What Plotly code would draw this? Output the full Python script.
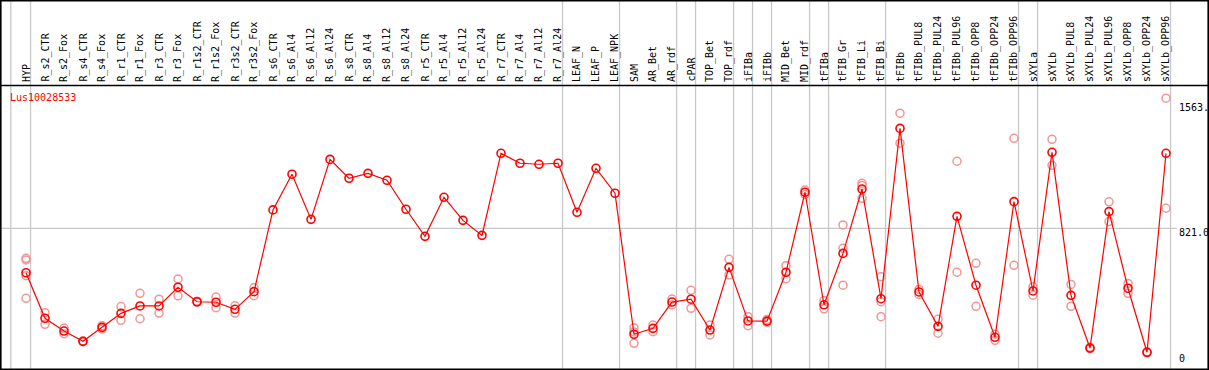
import plotly.graph_objects as go

gene = "Lus10028533"

categories = [
    "HYP", "R_s2_CTR", "R_s2_Fox", "R_s4_CTR", "R_s4_Fox", "R_r1_CTR", "R_r1_Fox",
    "R_r3_CTR", "R_r3_Fox", "R_r1s2_CTR", "R_r1s2_Fox", "R_r3s2_CTR", "R_r3s2_Fox",
    "R_s6_CTR", "R_s6_Al4", "R_s6_Al12", "R_s6_Al24", "R_s8_CTR", "R_s8_Al4",
    "R_s8_Al12", "R_s8_Al24", "R_r5_CTR", "R_r5_Al4", "R_r5_Al12", "R_r5_Al24",
    "R_r7_CTR", "R_r7_Al4", "R_r7_Al12", "R_r7_Al24", "LEAF_N", "LEAF_P", "LEAF_NPK",
    "SAM", "AR_Bet", "AR_rdf", "cPAR", "TOP_Bet", "TOP_rdf", "iFIBa", "iFIBb",
    "MID_Bet", "MID_rdf", "tFIBa", "tFIB_Gr", "tFIB_Li", "tFIB_Bi", "tFIBb",
    "tFIBb_PUL8", "tFIBb_PUL24", "tFIBb_PUL96", "tFIBb_OPP8", "tFIBb_OPP24",
    "tFIBb_OPP96", "sXYLa", "sXYLb", "sXYLb_PUL8", "sXYLb_PUL24", "sXYLb_PUL96",
    "sXYLb_OPP8", "sXYLb_OPP24", "sXYLb_OPP96",
]

mean_values = [
    557, 287, 211, 150, 233, 316, 360, 360, 471, 385, 382, 340, 445,
    930, 1142, 874, 1230, 1118, 1147, 1106, 934, 773, 1005, 868, 779,
    1266, 1207, 1201, 1207, 916, 1177, 1029,
    192, 227, 383, 400, 217, 589, 271, 270,
    560, 1035, 367, 672, 1054, 403, 1414,
    443, 239, 892, 483, 174, 979,
    449, 1272, 423, 110, 920, 465, 85, 1266,
]

replicate_values = [
    [643, 633, 540, 405], [320, 251], [229, 195], [152, 148], [243, 223],
    [356, 275], [435, 284], [400, 318], [520, 420], [388, 382], [413, 350],
    [361, 318], [468, 421],
    [], [], [], [], [], [], [], [], [], [], [], [], [], [], [], [], [], [], [],
    [231, 206, 138], [247, 207], [401, 366], [453, 346], [247, 188], [637, 544],
    [296, 243], [280, 262], [599, 522], [1048, 1022], [392, 343],
    [841, 702, 483], [1088, 1075, 999], [534, 385, 296], [1504, 1326],
    [458, 428], [281, 198], [1219, 560], [613, 358], [192, 156], [1355, 601],
    [474, 424], [1349, 1195], [488, 358], [115, 106], [978, 861], [494, 435],
    [88, 82], [1593, 940],
]

# last category index of each group (separators drawn after them)
group_ends = [-1, 0, 28, 31, 34, 35, 37, 38, 39, 41, 42, 45, 52, 53, 60]

y_ticks = [0, 821.0, 1563.0]
y_tick_text = ["0", "821.0", "1563."]

W, H = 1209, 370
FONT = "DejaVu Sans Mono"

xs = list(range(len(categories)))
rx, ry = [], []
for i, reps in enumerate(replicate_values):
    for v in reps:
        rx.append(i)
        ry.append(v)

fig = go.Figure()
fig.add_trace(go.Scatter(
    x=rx, y=ry, mode="markers",
    marker=dict(symbol="circle-open", size=8, color="rgb(240,150,150)",
                line=dict(width=1.5, color="rgb(240,150,150)")),
    hoverinfo="skip", showlegend=False,
))
fig.add_trace(go.Scatter(
    x=xs, y=mean_values, mode="lines+markers",
    line=dict(color="#ff0000", width=1.2),
    marker=dict(symbol="circle-open", size=8, color="#ff0000",
                line=dict(width=1.6, color="#ff0000")),
    showlegend=False,
))

shapes = []
# group separators
for g in group_ends:
    xv = g + 0.24 if g >= 0 else -0.8
    shapes.append(dict(type="line", xref="x", yref="paper", x0=xv, x1=xv, y0=0, y1=1,
                       line=dict(color="#c8c8c8", width=1.3), layer="below"))
# gridline at middle tick
shapes.append(dict(type="line", xref="paper", yref="y", x0=0, x1=1177 / W,
                   y0=y_ticks[1], y1=y_ticks[1],
                   line=dict(color="#c8c8c8", width=1.3), layer="below"))
# header separator
shapes.append(dict(type="line", xref="paper", yref="paper", x0=0, x1=1,
                   y0=1 - 85.5 / H, y1=1 - 85.5 / H, line=dict(color="black", width=1.5)))
# frame
shapes.append(dict(type="rect", xref="paper", yref="paper",
                   x0=0.8 / W, x1=1 - 0.8 / W, y0=0.8 / H, y1=1 - 0.8 / H,
                   line=dict(color="black", width=1.6)))

annotations = []
for i, c in enumerate(categories):
    annotations.append(dict(x=i, xref="x", y=1 - 84 / H, yref="paper", text=c,
                            textangle=-90, showarrow=False, xanchor="center",
                            yanchor="bottom", font=dict(family=FONT, size=10, color="black")))
annotations.append(dict(x=8 / W, xref="paper", y=1 - 97 / H, yref="paper", text=gene,
                        showarrow=False, xanchor="left", yanchor="middle",
                        font=dict(family=FONT, size=10, color="#ff0000")))
for v, t in zip(y_ticks, y_tick_text):
    if v == 0:
        annotations.append(dict(x=1177 / W, xref="paper", y=4 / H, yref="paper", text=t,
                                showarrow=False, xanchor="left", yanchor="bottom",
                                font=dict(family=FONT, size=10, color="black")))
    else:
        annotations.append(dict(x=1177 / W, xref="paper", y=v, yref="y", text=t,
                                showarrow=False, xanchor="left", yanchor="top", yshift=3,
                                font=dict(family=FONT, size=10, color="black")))

fig.update_layout(
    width=W, height=H,
    margin=dict(l=0, r=0, t=0, b=0),
    paper_bgcolor="white", plot_bgcolor="white",
    xaxis=dict(range=[-26 / 19, (W - 26) / 19], visible=False, fixedrange=True),
    yaxis=dict(range=[-20.2, 2176.1], visible=False, fixedrange=True),
    shapes=shapes, annotations=annotations, showlegend=False,
)

fig.write_html(
    "out.html",
    config={"displayModeBar": False},
    post_script="document.body.style.margin='0';document.body.style.overflow='hidden';",
)
